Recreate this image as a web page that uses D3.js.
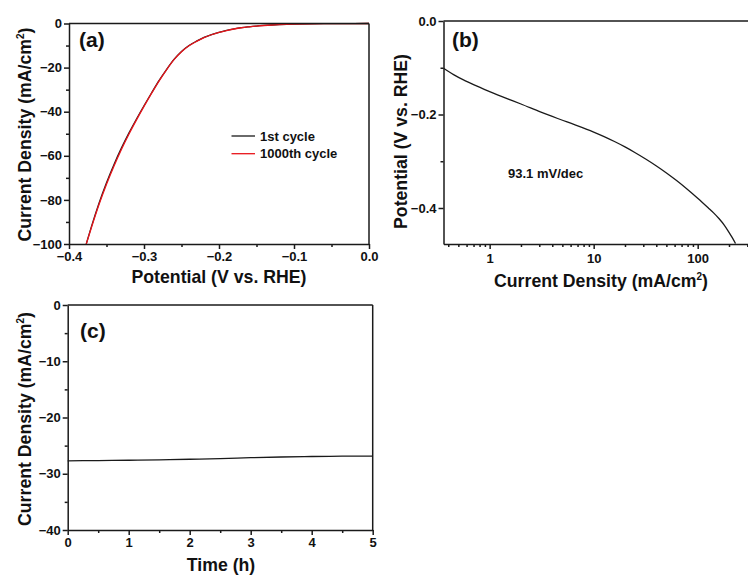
<!DOCTYPE html>
<html>
<head>
<meta charset="utf-8">
<script src="https://cdn.jsdelivr.net/npm/d3@7"></script>
<style>
  html, body { margin: 0; padding: 0; background: #fff; }
  svg { display: block; }
  text { font-family: "Liberation Sans", Arial, sans-serif; font-weight: bold; fill: #111; }
  .axis path, .axis line { stroke: #1a1a1a; stroke-width: 1.5; }
  .axis text { font-size: 13px; font-family: "Liberation Sans", Arial, sans-serif; font-weight: bold; fill: #111; }
</style>
</head>
<body>
<svg id="chart" width="748" height="575"></svg>
<script>
// (a) polarization curves before and after cycling
const lsvPotential = [-0.377, -0.37, -0.36, -0.35, -0.34, -0.33, -0.32, -0.31, -0.30, -0.29, -0.28, -0.27, -0.26, -0.25, -0.24, -0.23, -0.22, -0.21, -0.20, -0.19, -0.18, -0.17, -0.16, -0.15, -0.14, -0.13, -0.12, -0.11, -0.10, -0.08, -0.06, -0.04, -0.02, 0.0];
const lsvCycle1 = [-100, -92.0, -81.5, -72.2, -63.9, -56.4, -49.6, -43.3, -37.3, -31.5, -25.9, -20.9, -16.3, -12.7, -10.0, -8.0, -6.3, -5.0, -4.0, -3.15, -2.45, -1.9, -1.5, -1.15, -0.88, -0.67, -0.5, -0.37, -0.28, -0.16, -0.09, -0.05, -0.02, 0];
const lsvCycle1000 = [-100, -92.4, -82.1, -72.9, -64.6, -57.0, -50.1, -43.7, -37.6, -31.7, -26.1, -21.0, -16.4, -12.8, -10.1, -8.1, -6.4, -5.1, -4.05, -3.2, -2.5, -1.93, -1.52, -1.17, -0.9, -0.68, -0.51, -0.38, -0.29, -0.16, -0.09, -0.05, -0.02, 0];
const lsvLegend = ["1st cycle", "1000th cycle"];
const lsvColors = ["#1a1a1a", "#e8141a"];

// (b) Tafel plot
const tafelCurrent = [0.36, 0.45, 0.56, 0.70, 1.0, 1.47, 2.0, 3.07, 5.55, 10, 12.6, 15.85, 20, 25.1, 31.6, 39.8, 50.1, 63.1, 79.4, 100, 126, 143, 160, 180, 200, 215, 231];
const tafelPotential = [-0.101, -0.1146, -0.126, -0.1362, -0.151, -0.166, -0.1775, -0.1945, -0.216, -0.2375, -0.2472, -0.2578, -0.2693, -0.2817, -0.2951, -0.3095, -0.325, -0.3417, -0.3597, -0.379, -0.3995, -0.411, -0.4225, -0.4365, -0.452, -0.4635, -0.476];
const tafelSlopeLabel = "93.1 mV/dec";

// (c) chronoamperometric stability
const itTime = [0, 0.5, 1, 1.5, 2, 2.5, 3, 3.5, 4, 4.5, 5];
const itCurrent = [-27.7, -27.65, -27.6, -27.52, -27.42, -27.3, -27.15, -27.02, -26.93, -26.88, -26.85];

// tick values
const aXTicks = [-0.4, -0.3, -0.2, -0.1, 0.0];
const aXMinor = [-0.35, -0.25, -0.15, -0.05];
const aYTicks = [0, -20, -40, -60, -80, -100];
const aYMinor = [-10, -30, -50, -70, -90];
const bXTicks = [1, 10, 100];
const bXMinor = [0.4, 0.5, 0.6, 0.7, 0.8, 0.9, 2, 3, 4, 5, 6, 7, 8, 9, 20, 30, 40, 50, 60, 70, 80, 90, 200, 300];
const bYTicks = [0, -0.2, -0.4];
const bYMinor = [-0.1, -0.3];
const cXTicks = [0, 1, 2, 3, 4, 5];
const cXMinor = [0.5, 1.5, 2.5, 3.5, 4.5];
const cYTicks = [0, -10, -20, -30, -40];
const cYMinor = [-5, -15, -25, -35];

const svg = d3.select("#chart");
const MAJOR = 5, MINOR = 3;
const TITLE = 17.7;

function drawAxes(g, x, y, o) {
  const W = x.range()[1], L = x.range()[0], B = y.range()[0], T = y.range()[1];
  // minor ticks
  g.append("g").attr("class", "axis").attr("transform", `translate(0,${B})`)
    .call(d3.axisBottom(x).tickValues(o.xMinor).tickSize(MINOR).tickFormat(""))
    .call(s => s.select(".domain").remove());
  g.append("g").attr("class", "axis").attr("transform", `translate(${L},0)`)
    .call(d3.axisLeft(y).tickValues(o.yMinor).tickSize(MINOR).tickFormat(""))
    .call(s => s.select(".domain").remove());
  // major ticks
  g.append("g").attr("class", "axis").attr("transform", `translate(0,${B})`)
    .call(d3.axisBottom(x).tickValues(o.xTicks).tickSize(MAJOR).tickPadding(o.xPad || 3).tickSizeOuter(0).tickFormat(o.xFormat));
  g.append("g").attr("class", "axis").attr("transform", `translate(${L},0)`)
    .call(d3.axisLeft(y).tickValues(o.yTicks).tickSize(MAJOR).tickPadding(2).tickSizeOuter(0).tickFormat(o.yFormat));
  // frame top / right
  g.append("line").attr("x1", L).attr("x2", W).attr("y1", T).attr("y2", T)
    .attr("stroke", "#1a1a1a").attr("stroke-width", 1.5);
  g.append("line").attr("x1", W).attr("x2", W).attr("y1", T).attr("y2", B)
    .attr("stroke", "#1a1a1a").attr("stroke-width", 1.5);
}

function densityTitle(g, x, y, rotate, size) {
  const t = g.append("text").attr("text-anchor", "middle").style("font-size", size + "px")
    .attr("transform", rotate ? `translate(${x},${y}) rotate(-90)` : `translate(${x},${y})`);
  t.append("tspan").text("Current Density (mA/cm");
  t.append("tspan").text("2").attr("dy", -7).style("font-size", "10px");
  t.append("tspan").text(")").attr("dy", 7);
}

// ---------- (a) ----------
{
  const g = svg.append("g");
  const x = d3.scaleLinear().domain([-0.4, 0]).range([69, 369]);
  const y = d3.scaleLinear().domain([-100, 0]).range([244, 23.5]);
  const line = d3.line().x(d => x(d[0])).y(d => y(d[1])).curve(d3.curveMonotoneX);
  const series = [lsvCycle1, lsvCycle1000];
  series.forEach((vals, i) => {
    g.append("path").datum(lsvPotential.map((v, k) => [v, vals[k]]))
      .attr("d", line).attr("fill", "none").attr("stroke", lsvColors[i]).attr("stroke-width", 1.3);
  });
  drawAxes(g, x, y, {
    xTicks: aXTicks, xMinor: aXMinor, yTicks: aYTicks, yMinor: aYMinor,
    xFormat: d3.format(".1f"), yFormat: d => d3.format("d")(d)
  });
  g.append("text").text("(a)").attr("x", 79).attr("y", 47).style("font-size", "21px");
  g.append("text").text("Potential (V vs. RHE)").attr("x", 219).attr("y", 283)
    .attr("text-anchor", "middle").style("font-size", TITLE + "px");
  densityTitle(g, 31, 134.5, true, TITLE);
  // legend
  lsvLegend.forEach((name, i) => {
    const yy = 136 + i * 17.7;
    g.append("line").attr("x1", 231.5).attr("x2", 255).attr("y1", yy).attr("y2", yy)
      .attr("stroke", lsvColors[i]).attr("stroke-width", 1.3);
    g.append("text").text(name).attr("x", 260).attr("y", yy + 4.6).style("font-size", "13px");
  });
}

// ---------- (b) ----------
{
  const g = svg.append("g");
  const x = d3.scaleLog().domain([0.36, 310]).range([443.5, 748.8]);
  const y = d3.scaleLinear().domain([-0.477, 0]).range([244, 21]);
  const line = d3.line().x(d => x(d[0])).y(d => y(d[1])).curve(d3.curveMonotoneX);
  g.append("path").datum(tafelCurrent.map((c, k) => [c, tafelPotential[k]]))
    .attr("d", line).attr("fill", "none").attr("stroke", "#1a1a1a").attr("stroke-width", 1.3);
  drawAxes(g, x, y, {
    xTicks: bXTicks, xMinor: bXMinor, yTicks: bYTicks, yMinor: bYMinor,
    xFormat: d3.format("d"), yFormat: d3.format(".1f"), xPad: 5
  });
  g.append("text").text("(b)").attr("x", 452).attr("y", 47).style("font-size", "21px");
  g.append("text").text(tafelSlopeLabel).attr("x", 508).attr("y", 177.5).style("font-size", "13px");
  densityTitle(g, 601, 287, false, TITLE);
  g.append("text").text("Potential (V vs. RHE)").attr("text-anchor", "middle")
    .attr("transform", "translate(407,141.5) rotate(-90)").style("font-size", TITLE + "px");
}

// ---------- (c) ----------
{
  const g = svg.append("g");
  const x = d3.scaleLinear().domain([0, 5]).range([67.7, 372.7]);
  const y = d3.scaleLinear().domain([-40, 0]).range([530, 305]);
  const line = d3.line().x(d => x(d[0])).y(d => y(d[1])).curve(d3.curveMonotoneX);
  g.append("path").datum(itTime.map((t, k) => [t, itCurrent[k]]))
    .attr("d", line).attr("fill", "none").attr("stroke", "#1a1a1a").attr("stroke-width", 1.3);
  drawAxes(g, x, y, {
    xTicks: cXTicks, xMinor: cXMinor, yTicks: cYTicks, yMinor: cYMinor,
    xFormat: d3.format("d"), yFormat: d3.format("d")
  });
  g.append("text").text("(c)").attr("x", 80).attr("y", 338).style("font-size", "21px");
  g.append("text").text("Time (h)").attr("x", 221).attr("y", 571)
    .attr("text-anchor", "middle").style("font-size", TITLE + "px");
  densityTitle(g, 31, 419, true, TITLE);
}
</script>
</body>
</html>
